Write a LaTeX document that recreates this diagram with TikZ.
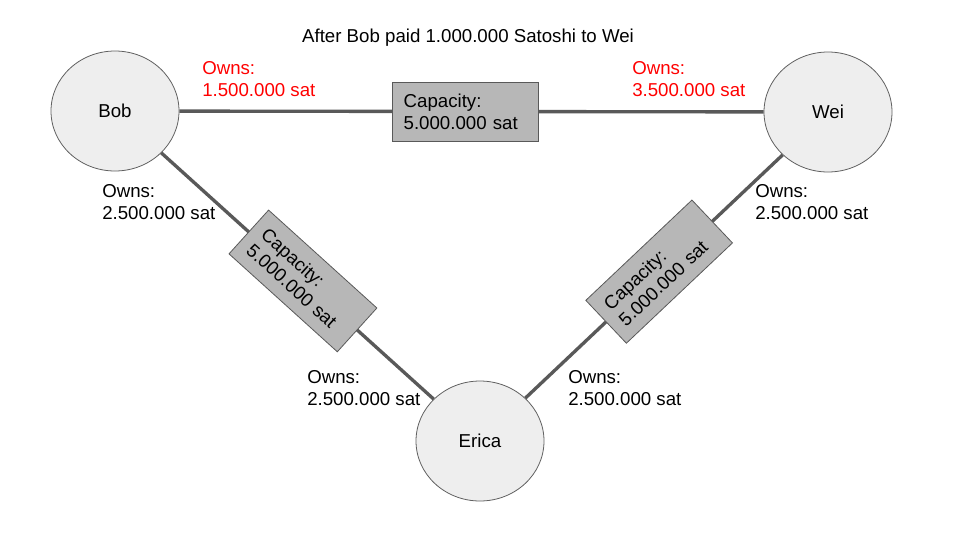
\documentclass[tikz,border=0pt]{standalone}
\usepackage{fontspec}
\setmainfont{Liberation Sans}
\usetikzlibrary{shapes.geometric,positioning}
\definecolor{peerfill}{HTML}{EEEEEE}
\definecolor{chanfill}{HTML}{B7B7B7}
\definecolor{linkgray}{HTML}{595959}
\definecolor{paidred}{HTML}{FF0000}
\newcommand{\slidefont}{\fontsize{14}{16.5}\selectfont}

\begin{document}
\begin{tikzpicture}[x=0.75pt, y=-0.75pt,
  peer/.style = {shape = ellipse, draw = gray!75!black, line width = 0.6pt, fill = peerfill, minimum width = 96pt, minimum height = 90pt, inner sep = 0pt, font = \slidefont},
  chan/.style = {shape = rectangle, draw = linkgray, line width = 0.6pt, fill = chanfill, minimum height = 44.25pt, text width = 93pt, inner xsep = 8.25pt, align = left, font = \slidefont},
  link/.style = {draw = linkgray, line width = 2.5pt},
  owns/.style = {anchor = north west, inner sep = 0pt, align = left, font = \slidefont}]
\useasboundingbox (0,0) rectangle (960,540);
\node[anchor = base, font = \slidefont] (title) at (468,42) {After Bob paid 1.000.000 Satoshi to Wei};
\node[peer] (bob) at (115,111) {Bob};
\node[peer] (wei) at (828,112) {Wei};
\node[peer] (erica) at (480,441) {Erica};
\draw[link] (bob) -- node[chan, pos = 0.49] (capbw) {Capacity:\\5.000.000 sat} (wei);
\draw[link] (bob) -- node[chan, sloped, pos = 0.52] (capbe) {Capacity:\\5.000.000 sat} (erica);
\draw[link] (erica) -- node[chan, sloped, pos = 0.52] (capew) {Capacity:\\5.000.000 sat} (wei);
\node[owns, text = paidred] (ownsbw) at (202,61) {Owns:\\1.500.000 sat};
\node[owns, text = paidred] (ownswb) at (632,61) {Owns:\\3.500.000 sat};
\node[owns] (ownsbe) at (102,184) {Owns:\\2.500.000 sat};
\node[owns] (ownswe) at (755,184) {Owns:\\2.500.000 sat};
\node[owns] (ownseb) at (307,370) {Owns:\\2.500.000 sat};
\node[owns] (ownsew) at (568,370) {Owns:\\2.500.000 sat};
\end{tikzpicture}
\end{document}
